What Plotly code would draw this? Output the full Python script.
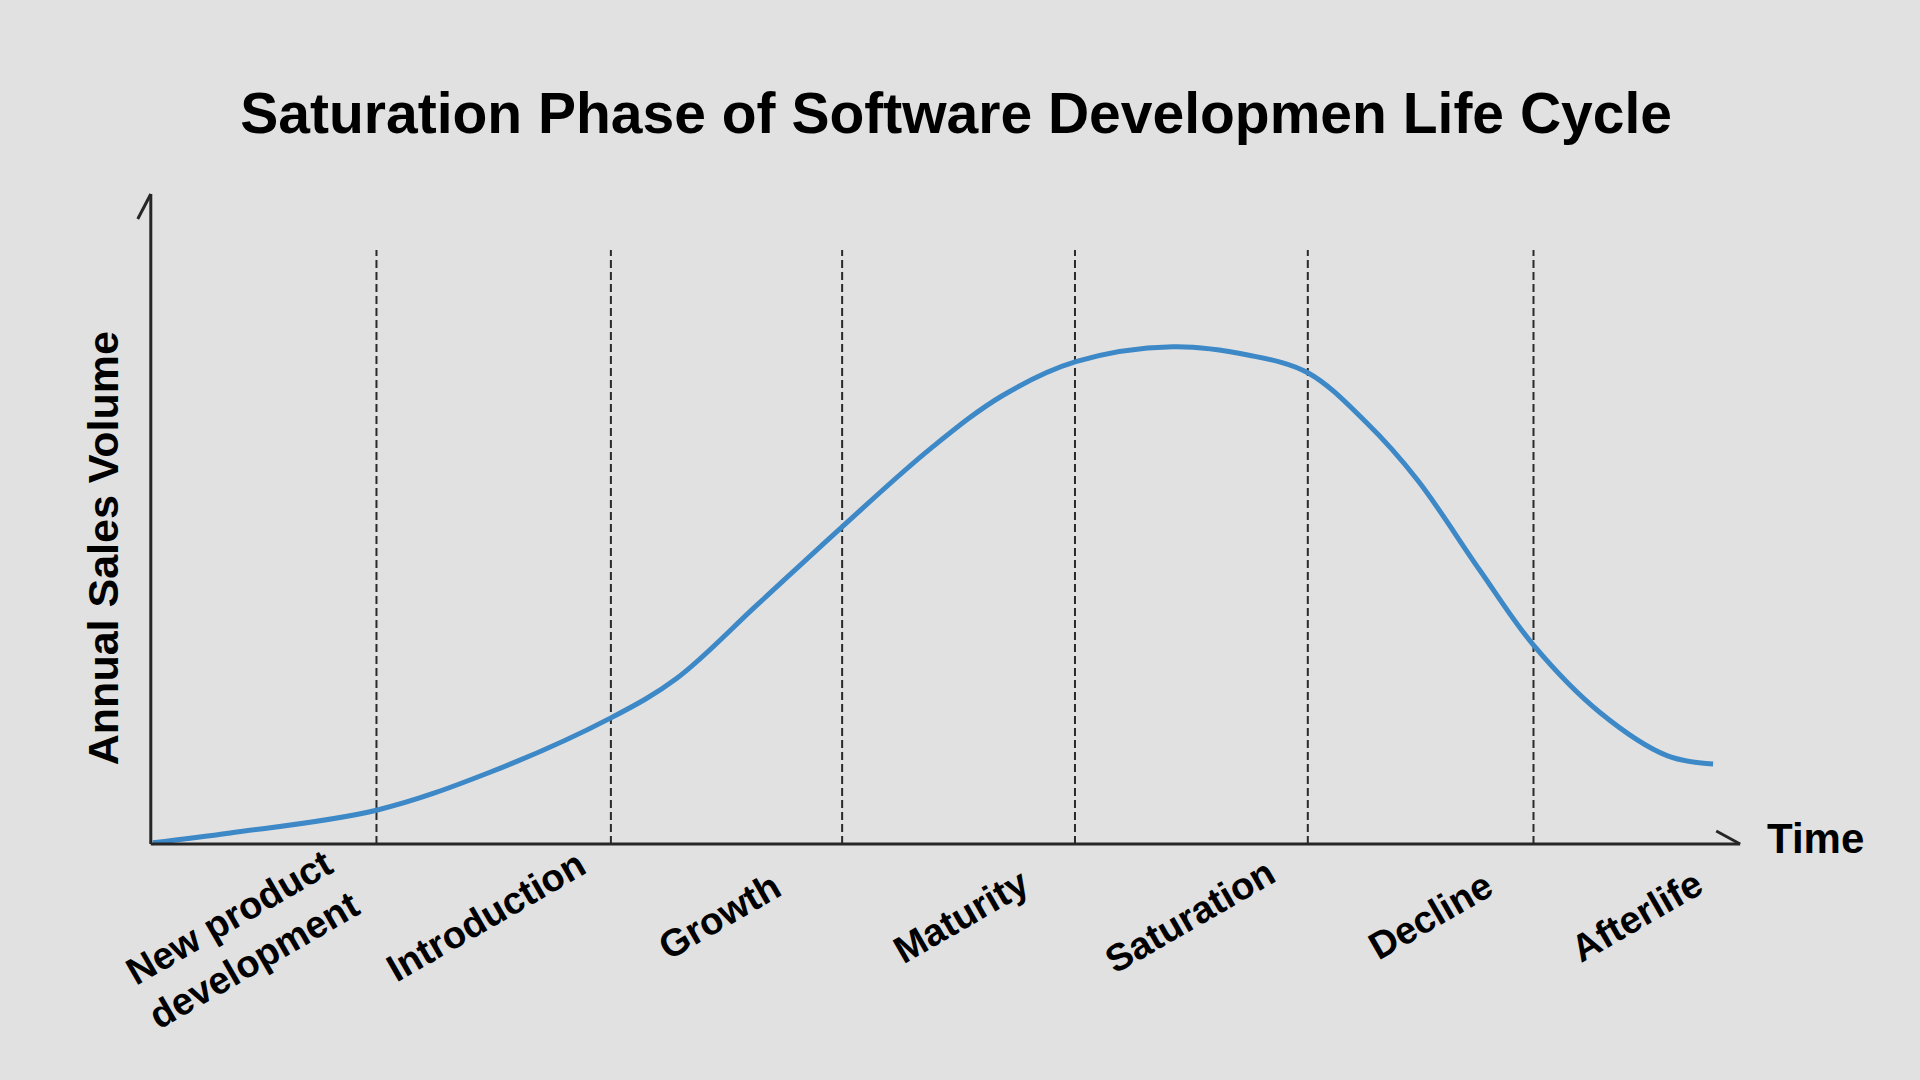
import plotly.graph_objects as go

# ---- data ----
time_x = [0.13, 5.0, 14.2, 21.3, 28.95, 33.1, 38.2, 43.5, 49.1, 53.6,
          58.2, 64.3, 69.1, 72.8, 76.5, 79.7, 83.6, 87.0, 91.2, 95.4, 98.3]
sales_y = [0.2, 1.7, 5.2, 11.0, 19.4, 25.5, 36.9, 48.8, 60.9, 69.0,
           74.2, 76.5, 75.2, 72.5, 64.8, 56.0, 42.2, 30.6, 20.2, 13.6, 12.3]
phase_bounds = [14.2, 28.95, 43.5, 58.15, 72.8, 87.0]
phase_labels = ["New product<br>development", "Introduction", "Growth", "Maturity",
                "Saturation", "Decline", "Afterlife"]
label_x = [5.7, 21.1, 35.8, 51.0, 65.4, 80.5, 93.5]

title = "Saturation Phase of Software Developmen Life Cycle"
FONT = "Liberation Sans, Arial, sans-serif"
BG = "#e1e1e1"
AXC = "#262626"

fig = go.Figure()
fig.add_trace(go.Scatter(x=time_x, y=sales_y, mode="lines",
                         line=dict(color="#3d88c6", width=5, shape="spline", smoothing=1.0),
                         hoverinfo="skip", showlegend=False))

shapes = []
for b in phase_bounds:
    shapes.append(dict(type="line", xref="x", yref="y", x0=b, x1=b, y0=0, y1=91.4,
                       line=dict(color="#2a2a2a", width=2, dash="8px,4px"), layer="below"))
# axes
shapes.append(dict(type="line", xref="x", yref="y", x0=0, x1=100, y0=0, y1=0,
                   line=dict(color=AXC, width=3)))
shapes.append(dict(type="line", xref="x", yref="y", x0=0, x1=0, y0=0, y1=100,
                   line=dict(color=AXC, width=3)))
# arrow barbs
shapes.append(dict(type="line", xref="x", yref="y", x0=0, x1=-0.82, y0=100, y1=96.15,
                   line=dict(color=AXC, width=3)))
shapes.append(dict(type="line", xref="x", yref="y", x0=100, x1=98.5, y0=0, y1=2.0,
                   line=dict(color=AXC, width=3)))

annotations = []
for i, (lab, lx) in enumerate(zip(phase_labels, label_x)):
    annotations.append(dict(x=lx, y=-0.12 if i == 0 else -0.0873, xref="x", yref="paper",
                            text=lab, showarrow=False, textangle=-30,
                            xanchor="center", yanchor="middle",
                            font=dict(family=FONT, size=38, color="black", weight="bold")))
annotations.append(dict(x=-0.0098, y=45.5, xref="paper", yref="y", text="Annual Sales Volume",
                        showarrow=False, textangle=-90, xanchor="center", yanchor="middle",
                        font=dict(family=FONT, size=43, color="black", weight="bold")))
annotations.append(dict(x=1.0365, y=0.9, xref="paper", yref="y", text="Time",
                        showarrow=False, xanchor="center", yanchor="middle",
                        font=dict(family=FONT, size=42, color="black", weight="bold")))

hidden = dict(showgrid=False, zeroline=False, showline=False, showticklabels=False,
              ticks="", fixedrange=True)
fig.update_layout(
    width=1920, height=1080,
    paper_bgcolor=BG, plot_bgcolor=BG,
    margin=dict(l=119.2, r=164.1, t=181, b=223),
    title=dict(text=title, x=0.498, xanchor="center", y=1 - 113 / 1080, yanchor="middle",
               font=dict(family=FONT, size=57, color="black", weight="bold")),
    xaxis=dict(range=[-2, 101], **hidden),
    yaxis=dict(range=[-2, 102], **hidden),
    shapes=shapes, annotations=annotations, showlegend=False,
)

fig.write_html("out.html")
